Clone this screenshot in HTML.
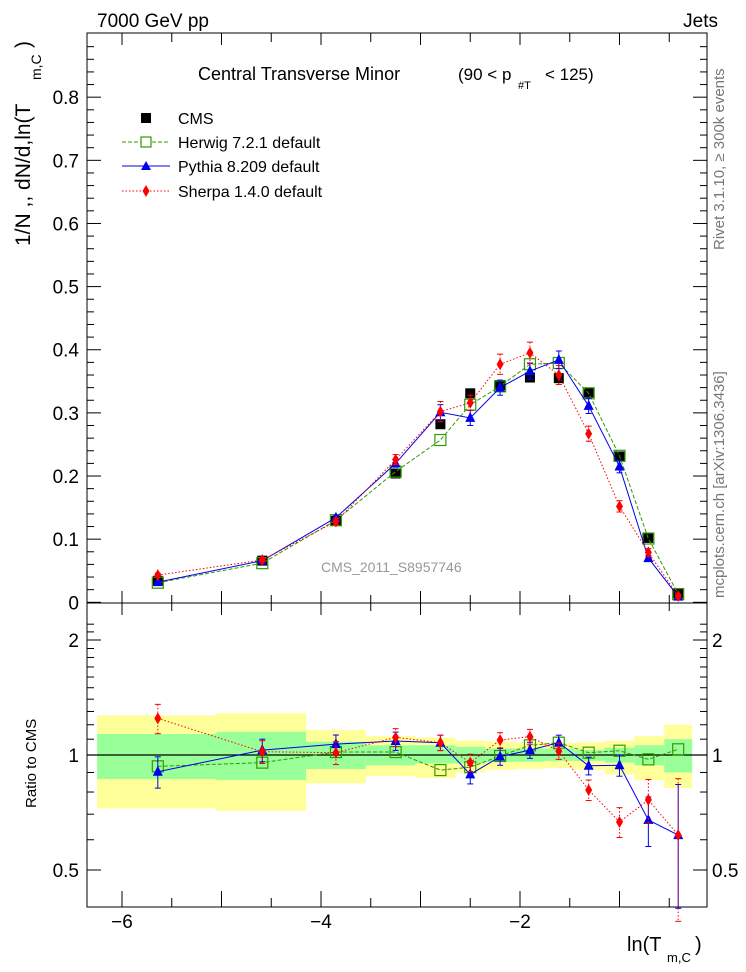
<!DOCTYPE html>
<html><head><meta charset="utf-8"><style>
html,body{margin:0;padding:0;background:#fff;}
svg{display:block;font-family:"Liberation Sans",sans-serif;}
</style></head><body>
<svg id="chart" width="746" height="972" viewBox="0 0 746 972"></svg>
<script>
const xCenters = [-5.64,-4.59,-3.85,-3.25,-2.80,-2.50,-2.20,-1.90,-1.61,-1.31,-1.00,-0.71,-0.41];
const binEdges = [-6.25,-5.05,-4.15,-3.55,-3.05,-2.65,-2.35,-2.05,-1.75,-1.45,-1.15,-0.85,-0.55,-0.27];
const cmsVals = [0.034,0.066,0.129,0.204,0.282,0.331,0.344,0.356,0.355,0.332,0.231,0.102,0.014];
const herwigVals = [0.031,0.062,0.130,0.207,0.257,0.313,0.342,0.377,0.379,0.331,0.232,0.101,0.013];
const pythiaVals = [0.032,0.066,0.134,0.220,0.301,0.292,0.340,0.366,0.384,0.311,0.215,0.070,0.009];
const sherpaVals = [0.043,0.067,0.128,0.226,0.302,0.316,0.377,0.395,0.360,0.267,0.152,0.079,0.010];
const pythiaErr = [0.002,0.003,0.004,0.006,0.012,0.012,0.012,0.013,0.014,0.012,0.010,0.004,0.004];
const sherpaErr = [0.003,0.003,0.005,0.008,0.016,0.012,0.016,0.017,0.015,0.012,0.009,0.006,0.003];
const herwigRatio = [0.934,0.955,1.018,1.018,0.913,0.929,0.994,1.06,1.077,1.014,1.026,0.974,1.035];
const pythiaRatio = [0.904,1.03,1.068,1.088,1.077,0.89,0.99,1.03,1.077,0.937,0.94,0.676,0.617];
const sherpaRatio = [1.247,1.02,1.014,1.112,1.077,0.955,1.094,1.117,1.024,0.81,0.668,0.763,0.617];
const pythiaRatioErr = [0.085,0.07,0.06,0.06,0.05,0.05,0.05,0.05,0.05,0.05,0.06,0.1,0.22];
const sherpaRatioErr = [0.11,0.07,0.07,0.06,0.05,0.05,0.05,0.05,0.05,0.05,0.06,0.1,0.25];
const greenHi = [1.135,1.15,1.083,1.06,1.06,1.05,1.04,1.04,1.04,1.03,1.045,1.06,1.10];
const greenLo = [0.865,0.86,0.919,0.94,0.95,0.95,0.96,0.96,0.965,0.965,0.955,0.94,0.90];
const yellowHi = [1.27,1.286,1.163,1.12,1.11,1.09,1.085,1.08,1.075,1.08,1.09,1.12,1.20];
const yellowLo = [0.725,0.714,0.843,0.88,0.87,0.9,0.915,0.92,0.925,0.915,0.89,0.86,0.82];
const yTicks = [0,0.1,0.2,0.3,0.4,0.5,0.6,0.7,0.8];
const xTicks = [-6,-4,-2];
const rTicks = [0.5,1,2];

const NS='http://www.w3.org/2000/svg';
const svg=document.getElementById('chart');
const L=87,R=707,T=33,MB=603,RB=907;
const xS=v=>520+99.5*(v+2);
const yS=v=>602.3-631.4*v;
const rS=r=>755-115*Math.log2(r);
function mk(tag,attrs,parent){const e=document.createElementNS(NS,tag);for(const k in attrs)e.setAttribute(k,attrs[k]);(parent||svg).appendChild(e);return e;}
function txt(s,attrs,parent){const e=mk('text',attrs,parent);e.textContent=s;return e;}

const bands=mk('g',{});


for(let i=0;i<xCenters.length;i++){
  const x0=xS(binEdges[i]),x1=xS(binEdges[i+1]);
  const y=mk('rect',{x:x0,y:rS(yellowHi[i]),width:x1-x0,height:rS(yellowLo[i])-rS(yellowHi[i]),fill:'#ffff99'},bands);
  
  
  const g=mk('rect',{x:x0,y:rS(greenHi[i]),width:x1-x0,height:rS(greenLo[i])-rS(greenHi[i]),fill:'#99ff99'},bands);
  
  
}
mk('line',{x1:L,x2:R,y1:rS(1),y2:rS(1),stroke:'#000','stroke-width':1.2});

const f1=mk('rect',{x:L,y:T,width:R-L,height:MB-T,fill:'none',stroke:'#000','stroke-width':1});


const f2=mk('rect',{x:L,y:MB,width:R-L,height:RB-MB,fill:'none',stroke:'#000','stroke-width':1});



for(let v=0;v<=0.9;v+=0.02){const y=yS(v);if(y<T)break;const maj=Math.abs(v*10-Math.round(v*10))<1e-6;const len=maj?14:7;
 mk('line',{x1:L,x2:L+len,y1:y,y2:y,stroke:'#000'});mk('line',{x1:R,x2:R-len,y1:y,y2:y,stroke:'#000'});}
yTicks.forEach(v=>{const t=txt(v===0?'0':v.toFixed(1),{x:79,y:yS(v)+7,'font-size':19,'text-anchor':'end'});
 
 });
[0.4,0.5,0.6,0.7,0.8,0.9,1,1.1,1.2,1.3,1.4,1.5,1.6,1.7,1.8,1.9,2,2.1,2.2].forEach(r=>{const y=rS(r);if(y<MB||y>RB)return;const maj=rTicks.includes(r);const len=maj?14:7;
 mk('line',{x1:L,x2:L+len,y1:y,y2:y,stroke:'#000'});mk('line',{x1:R,x2:R-len,y1:y,y2:y,stroke:'#000'});});
rTicks.forEach(r=>{const lbl=r===1?'1':String(r);
 const a=txt(lbl,{x:79,y:rS(r)+7,'font-size':19,'text-anchor':'end'});
 
 
 const b=txt(lbl,{x:712,y:rS(r)+7,'font-size':19});
 
 });
for(let v=-6.5;v<=0;v+=0.5){const x=xS(v);if(x<L||x>R)continue;const maj=Number.isInteger(v);const len=maj?16:9;
 mk('line',{x1:x,x2:x,y1:RB,y2:RB-len,stroke:'#000'});mk('line',{x1:x,x2:x,y1:T,y2:T+(maj?12:9),stroke:'#000'});
 mk('line',{x1:x,x2:x,y1:MB,y2:MB-(maj?12:8),stroke:'#000'});mk('line',{x1:x,x2:x,y1:MB,y2:MB+(maj?12:8),stroke:'#000'});}
xTicks.forEach(v=>{const t=txt('\u2212'+Math.abs(v),{x:xS(v),y:928,'font-size':19,'text-anchor':'middle'});
 
 });

function series(name,xs,vals,sc,color,dash,marker,errs){
 const g=mk('g',{});
 
 
 if(color!=='#000'){
  const pts=xs.map((x,i)=>xS(x)+','+sc(vals[i])).join(' ');
  mk('polyline',{points:pts,fill:'none',stroke:color,'stroke-width':1,'stroke-dasharray':dash},g);
 }
 xs.forEach((x,i)=>{const cx=xS(x),cy=sc(vals[i]);
  if(errs){const e=errs[i];const y1=sc(vals[i]+e),y2=sc(Math.max(vals[i]-e,0.001));
   mk('line',{x1:cx,x2:cx,y1:y1,y2:y2,stroke:color,'stroke-dasharray':dash},g);
   mk('line',{x1:cx-3,x2:cx+3,y1:y1,y2:y1,stroke:color},g);mk('line',{x1:cx-3,x2:cx+3,y1:y2,y2:y2,stroke:color},g);}
  let m;
  if(marker==='fsq')m=mk('rect',{x:cx-5,y:cy-5,width:10,height:10,fill:'#000'},g);
  else if(marker==='osq')m=mk('rect',{x:cx-5.5,y:cy-5.5,width:11,height:11,fill:'none',stroke:color,'stroke-width':1.2},g);
  else if(marker==='tri')m=mk('polygon',{points:`${cx},${cy-6} ${cx-5},${cy+4} ${cx+5},${cy+4}`,fill:color},g);
  else m=mk('polygon',{points:`${cx},${cy-6} ${cx-3.5},${cy} ${cx},${cy+6} ${cx+3.5},${cy}`,fill:color},g);
  
  
 });
}
series('cms-data',xCenters,cmsVals,yS,'#000','','fsq',null);
series('herwig-series',xCenters,herwigVals,yS,'#339900','4,2','osq',null);
series('pythia-series',xCenters,pythiaVals,yS,'#0000ee','','tri',pythiaErr);
series('sherpa-series',xCenters,sherpaVals,yS,'#ff0000','1.5,2','dia',sherpaErr);
series('herwig-ratio',xCenters,herwigRatio,rS,'#339900','4,2','osq',null);
series('pythia-ratio',xCenters,pythiaRatio,rS,'#0000ee','','tri',pythiaRatioErr);
series('sherpa-ratio',xCenters,sherpaRatio,rS,'#ff0000','1.5,2','dia',sherpaRatioErr);

const leg=mk('g',{});


const legItems=[['CMS','#000','','fsq',118],['Herwig 7.2.1 default','#339900','4,2','osq',142],['Pythia 8.209 default','#0000ee','','tri',166],['Sherpa 1.4.0 default','#ff0000','1.5,2','dia',191]];
legItems.forEach(it=>{const [lab,c,d,m,y]=it;const cx=146;
 if(m!=='fsq')mk('line',{x1:122,x2:170,y1:y,y2:y,stroke:c,'stroke-dasharray':d},leg);
 if(m==='fsq')mk('rect',{x:cx-5,y:y-5,width:10,height:10,fill:'#000'},leg);
 else if(m==='osq')mk('rect',{x:cx-5,y:y-5,width:10,height:10,fill:'#fff',stroke:c,'stroke-width':1.2},leg);
 else if(m==='tri')mk('polygon',{points:`${cx},${y-5} ${cx-5},${y+4} ${cx+5},${y+4}`,fill:c},leg);
 else mk('polygon',{points:`${cx},${y-6} ${cx-3.5},${y} ${cx},${y+6} ${cx+3.5},${y}`,fill:c},leg);
 const t=txt(lab,{x:178,y:y+6,'font-size':16},leg);
 
 
});
</script>
<svg style="position:absolute;left:0;top:0" width="746" height="972">
<text x="97" y="27" font-size="19" font-family="Liberation Sans">7000 GeV pp</text>
<text x="718" y="27" font-size="19" font-family="Liberation Sans" text-anchor="end">Jets</text>
<text x="198" y="80" font-size="18" font-family="Liberation Sans">Central Transverse Minor</text>
<text x="458" y="80" font-size="17" font-family="Liberation Sans">(90 &lt; p</text>
<text x="518" y="89" font-size="11" font-family="Liberation Sans">#T</text>
<text x="545" y="80" font-size="17" font-family="Liberation Sans">&lt; 125)</text>
<text x="321" y="572" font-size="14" fill="#999" font-family="Liberation Sans">CMS_2011_S8957746</text>
<g transform="translate(30,246) rotate(-90)"><text x="0" y="0" font-size="21" font-family="Liberation Sans">1/N ,, dN/d,ln(T</text><text x="166" y="11" font-size="14" font-family="Liberation Sans">m,C</text><text x="198" y="0" font-size="21" font-family="Liberation Sans">)</text></g>
<text transform="translate(36,808) rotate(-90)" font-size="15" font-family="Liberation Sans">Ratio to CMS</text>
<text transform="translate(724,250) rotate(-90)" font-size="15" fill="#777" font-family="Liberation Sans">Rivet 3.1.10, ≥ 300k events</text>
<text transform="translate(724,598) rotate(-90)" font-size="15" fill="#777" font-family="Liberation Sans">mcplots.cern.ch [arXiv:1306.3436]</text>
<g><text x="627" y="951" font-size="20" font-family="Liberation Sans">ln(T</text><text x="667" y="962" font-size="13" font-family="Liberation Sans">m,C</text><text x="695" y="951" font-size="20" font-family="Liberation Sans">)</text></g>
</svg>
</body></html>
